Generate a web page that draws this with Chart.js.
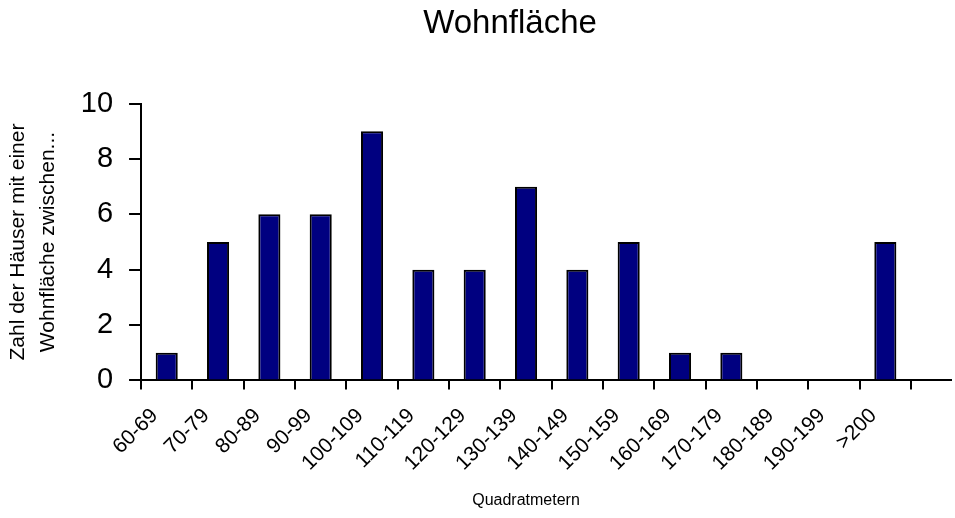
<!DOCTYPE html>
<html>
<head>
<meta charset="utf-8">
<script src="https://cdn.jsdelivr.net/npm/chart.js@4"></script>
<style>
    body { margin: 0; background: #fff; }
    #wrap { width: 955px; height: 518px; }
</style>
</head>
<body>
<div id="wrap"><canvas id="areaChart"></canvas></div>
<script>
// ==================== DATA ====================
let categories = ["60-69", "70-79", "80-89", "90-99", "100-109", "110-119", "120-129",
    "130-139", "140-149", "150-159", "160-169", "170-179", "180-189", "190-199", ">200"];
let houseCounts = [1, 5, 6, 6, 9, 4, 4, 7, 4, 5, 1, 1, 0, 0, 5];
let yTicks = [0, 2, 4, 6, 8, 10];

const FONT = "Arial, 'Liberation Sans', sans-serif";

// Excel draws the category axis line on past the last tick,
// and its chart title sits a little left of the plot centre
const excelTweaks = {
    id: 'excelTweaks',
    afterLayout(chart) {
        if (chart.titleBlock) {
            chart.titleBlock.left -= 32;
        }
    },
    afterDraw(chart) {
        let ctx = chart.ctx;
        let y = Math.round(chart.scales.y.getPixelForValue(0));
        ctx.save();
        ctx.strokeStyle = '#000';
        ctx.lineWidth = 2;
        ctx.beginPath();
        ctx.moveTo(chart.chartArea.right - 1, y);
        ctx.lineTo(chart.width - 3, y);
        ctx.stroke();
        ctx.restore();
    }
};

document.addEventListener("DOMContentLoaded", function () {
    let ctx = document.getElementById('areaChart').getContext('2d');
    new Chart(ctx, {
        type: 'bar',
        data: {
            labels: categories,
            datasets: [{
                label: 'Wohnfläche',
                data: houseCounts,
                backgroundColor: '#000080',
                borderColor: '#000',
                borderWidth: 2,
                barPercentage: 0.86,
                categoryPercentage: 0.5
            }]
        },
        options: {
            responsive: true,
            maintainAspectRatio: false,
            animation: false,
            layout: { padding: { left: 4, right: 44, top: 4, bottom: 6 } },
            plugins: {
                legend: { display: false },
                tooltip: { enabled: false },
                title: {
                    display: true,
                    text: 'Wohnfläche',
                    fullSize: false,
                    color: '#000',
                    font: { family: FONT, size: 33, weight: 'normal' },
                    padding: { top: 0, bottom: 60 }
                }
            },
            scales: {
                x: {
                    offset: true,
                    grid: { offset: true, drawOnChartArea: false, drawTicks: true, tickLength: 9, color: '#000', lineWidth: 2 },
                    border: { display: true, color: '#000', width: 2 },
                    ticks: {
                        autoSkip: false,
                        minRotation: 45,
                        maxRotation: 45,
                        labelOffset: -12,
                        color: '#000',
                        padding: 14,
                        font: { family: FONT, size: 21 }
                    },
                    title: {
                        display: true,
                        text: 'Quadratmetern',
                        color: '#000',
                        font: { family: FONT, size: 16 },
                        padding: { top: 1, bottom: 2 }
                    }
                },
                y: {
                    min: 0,
                    max: 10,
                    afterBuildTicks: axis => { axis.ticks = yTicks.map(v => ({ value: v })); },
                    grid: { drawOnChartArea: false, drawTicks: true, tickLength: 12, color: '#000', lineWidth: 2 },
                    border: { display: true, color: '#000', width: 2 },
                    ticks: {
                        color: '#000',
                        padding: 16,
                        font: { family: FONT, size: 29 }
                    },
                    title: {
                        display: true,
                        text: ['Zahl der Häuser mit einer', 'Wohnfläche zwischen...'],
                        color: '#000',
                        font: { family: FONT, size: 21, lineHeight: 1.4 },
                        padding: { top: 0, bottom: 2 }
                    }
                }
            }
        },
        plugins: [excelTweaks]
    });
});
</script>
</body>
</html>
